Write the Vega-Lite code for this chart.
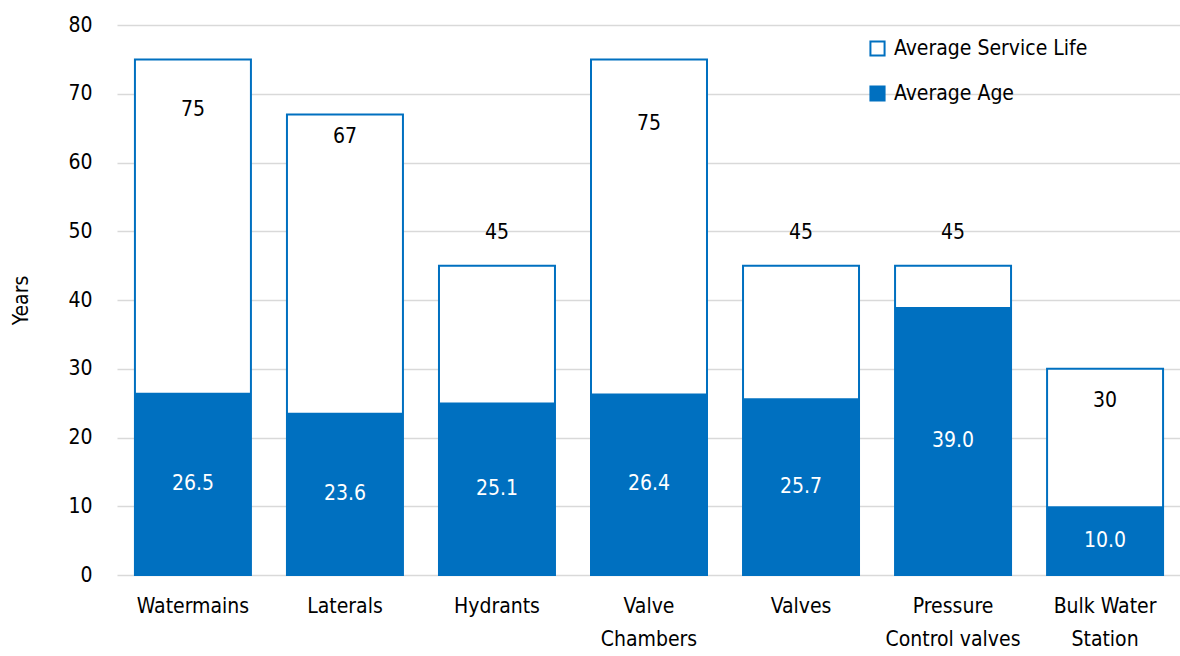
{
  "$schema": "https://vega.github.io/schema/vega-lite/v6.json",
  "autosize": "none",
  "width": 1064,
  "height": 550,
  "padding": {"left": 117, "top": 25, "right": 0, "bottom": 81},
  "background": "white",
  "config": {
    "font": "DejaVu Sans Condensed, Roboto, sans-serif",
    "view": {"stroke": null},
    "axisY": {
      "titleFontSize": 21,
      "titleFontWeight": "normal",
      "titleColor": "#000000",
      "titlePadding": 36,
      "labelOverlap": false,
      "ticks": false,
      "domain": false,
      "labelFontSize": 21,
      "labelColor": "#000000",
      "labelPadding": 25,
      "grid": true,
      "gridColor": "#D9D9D9",
      "gridWidth": 1.5
    }
  },
  "data": {
    "values": [
      {"asset": "Watermains", "life": 75, "age": 26.5},
      {"asset": "Laterals", "life": 67, "age": 23.6},
      {"asset": "Hydrants", "life": 45, "age": 25.1},
      {"asset": "Valve Chambers", "life": 75, "age": 26.4},
      {"asset": "Valves", "life": 45, "age": 25.7},
      {"asset": "Pressure Control valves", "life": 45, "age": 39.0},
      {"asset": "Bulk Water Station", "life": 30, "age": 10.0}
    ]
  },
  "encoding": {
    "x": {
      "field": "asset",
      "type": "nominal",
      "sort": null,
      "scale": {"paddingInner": 0.237, "paddingOuter": 0.118},
      "axis": {
        "title": null,
        "labelAngle": 0,
        "ticks": false,
        "domain": false,
        "labelFontSize": 21,
        "labelColor": "#000000",
        "labelPadding": 20,
        "labelLineHeight": 33,
        "labelExpr": "datum.value === 'Valve Chambers' ? ['Valve', 'Chambers'] : datum.value === 'Pressure Control valves' ? ['Pressure', 'Control valves'] : datum.value === 'Bulk Water Station' ? ['Bulk Water', 'Station'] : datum.value"
      }
    }
  },
  "layer": [
    {
      "mark": {"type": "bar", "stroke": "#0070C0", "strokeWidth": 2},
      "encoding": {
        "y": {
          "field": "life",
          "type": "quantitative",
          "scale": {"domain": [0, 80]},
          "axis": {"title": "Years", "values": [0, 10, 20, 30, 40, 50, 60, 70, 80]}
        },
        "fill": {
          "datum": "Average Service Life",
          "type": "nominal",
          "scale": {
            "domain": ["Average Service Life", "Average Age"],
            "range": ["#FFFFFF", "#0070C0"]
          },
          "legend": {
            "title": null,
            "orient": "none",
            "legendX": 750,
            "legendY": 13,
            "symbolType": "square",
            "symbolSize": 200,
            "symbolStrokeColor": "#0070C0",
            "symbolStrokeWidth": 2,
            "labelFontSize": 21,
            "labelLimit": 400,
            "labelColor": "#000000",
            "labelOffset": 6,
            "rowPadding": 22
          }
        }
      }
    },
    {
      "mark": {"type": "bar"},
      "encoding": {
        "y": {
          "field": "age",
          "type": "quantitative",
          "axis": {"title": "Years", "values": [0, 10, 20, 30, 40, 50, 60, 70, 80]}
        },
        "fill": {"datum": "Average Age", "type": "nominal"}
      }
    },
    {
      "mark": {
        "type": "text",
        "fontSize": 21,
        "color": "#000000",
        "baseline": "middle",
        "dy": {"expr": "datum.asset === 'Watermains' ? 51 : datum.asset === 'Laterals' ? 23 : datum.asset === 'Valve Chambers' ? 65 : datum.asset === 'Bulk Water Station' ? 32 : -33"}
      },
      "encoding": {
        "y": {
          "field": "life",
          "type": "quantitative",
          "axis": {"title": "Years", "values": [0, 10, 20, 30, 40, 50, 60, 70, 80]}
        },
        "text": {"field": "life", "type": "quantitative", "format": "d"}
      }
    },
    {
      "transform": [{"calculate": "datum.age / 2", "as": "ageMid"}],
      "mark": {"type": "text", "fontSize": 21, "color": "#FFFFFF", "baseline": "middle"},
      "encoding": {
        "y": {
          "field": "ageMid",
          "type": "quantitative",
          "axis": {"title": "Years", "values": [0, 10, 20, 30, 40, 50, 60, 70, 80]}
        },
        "text": {"field": "age", "type": "quantitative", "format": ".1f"}
      }
    }
  ]
}
